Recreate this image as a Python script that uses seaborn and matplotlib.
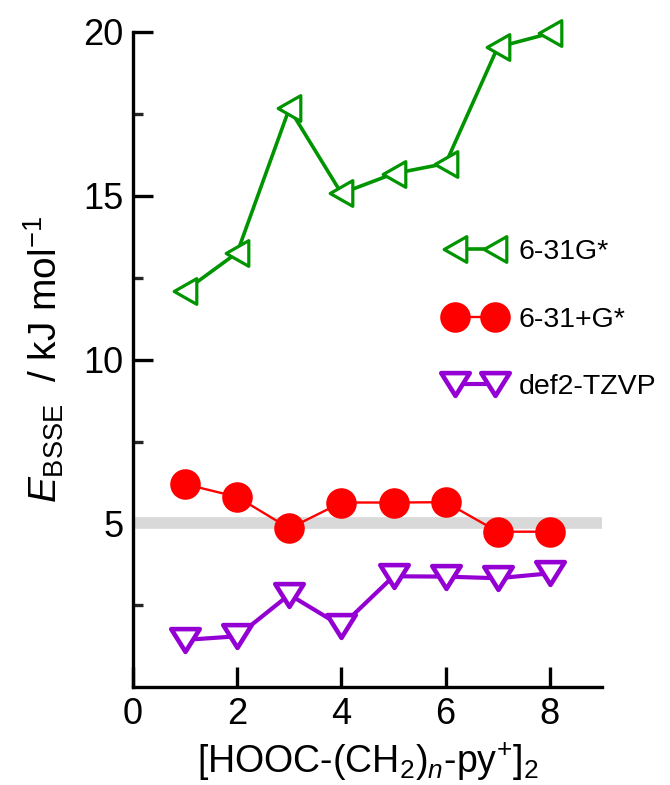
import numpy as np
import pandas as pd
import matplotlib
matplotlib.use("Agg")
import matplotlib.pyplot as plt
from matplotlib.path import Path
from matplotlib.markers import MarkerStyle
import seaborn as sns

# ---- data ----
n_values = [1, 2, 3, 4, 5, 6, 7, 8]
e_631g = [12.10, 13.26, 17.66, 15.07, 15.67, 15.98, 19.53, 19.95]
e_631pg = [6.20, 5.81, 4.85, 5.64, 5.64, 5.65, 4.75, 4.75]
e_def2 = [1.45, 1.56, 2.83, 1.87, 3.39, 3.38, 3.33, 3.48]
series_labels = ["6-31G*", "6-31+G*", "def2-TZVP"]
ref_level = 5.0
x_ticks = [0, 2, 4, 6, 8]
y_ticks = [5, 10, 15, 20]

sns.set_theme(style="ticks")
plt.rcParams["font.family"] = ["Liberation Sans", "DejaVu Sans"]
plt.rcParams["text.color"] = "black"
plt.rcParams["axes.labelcolor"] = "black"
plt.rcParams["mathtext.fontset"] = "custom"
plt.rcParams["mathtext.rm"] = "Liberation Sans"
plt.rcParams["mathtext.it"] = "Liberation Sans:italic"
plt.rcParams["mathtext.bf"] = "Liberation Sans:bold"

fig = plt.figure(figsize=(6.7, 7.85), dpi=100)
ax = fig.add_axes([0.1985, 0.1243, 0.70, 0.8353])

green = "#009400"
red = "#ff0000"
purple = "#9400d3"

left_tri = MarkerStyle(Path([(-0.88, 0), (0.88, 1), (0.88, -1), (-0.88, 0)], closed=True), joinstyle="miter")
down_tri = MarkerStyle(Path([(-1, 0.8), (1, 0.8), (0, -0.8), (-1, 0.8)], closed=True), joinstyle="miter")

ax.axhline(ref_level, color="#d9d9d9", linewidth=8.4, zorder=1)

df = pd.DataFrame({"n": n_values, "g": e_631g, "pg": e_631pg, "d": e_def2})

styles = [
    dict(color=green, linewidth=2.6, marker=left_tri, markersize=18.5,
         markerfacecolor="white", markeredgecolor=green, markeredgewidth=2.3),
    dict(color=red, linewidth=1.7, marker="o", markersize=22,
         markerfacecolor=red, markeredgecolor=red, markeredgewidth=0),
    dict(color=purple, linewidth=3.0, marker=down_tri, markersize=20.5,
         markerfacecolor="white", markeredgecolor=purple, markeredgewidth=3.3),
]

for col, lab, st in zip(["g", "pg", "d"], series_labels, styles):
    sns.lineplot(data=df, x="n", y=col, ax=ax, label=lab, clip_on=False,
                 zorder=3, **st)
    line = ax.lines[-1]
    line.set_linewidth(st["linewidth"])
    line.set_markeredgewidth(st["markeredgewidth"])
    line.set_markersize(st["markersize"])
    line.set_clip_on(False)

ax.set_xlim(0, 9)
ax.set_ylim(0, 20)
ax.set_xticks(x_ticks)
ax.set_yticks(y_ticks)
ax.set_yticks([2.5, 7.5, 12.5, 17.5], minor=True)
ax.tick_params(axis="both", which="major", direction="in", length=14.4, width=2.4,
               labelsize=26, pad=7, color="black", labelcolor="black")
ax.tick_params(axis="y", which="minor", direction="in", length=7.2, width=2.4)
for s in ["top", "right"]:
    ax.spines[s].set_visible(False)
for s in ["left", "bottom"]:
    ax.spines[s].set_linewidth(2.4)
    ax.spines[s].set_color("black")

ax.set_xlabel(r"[HOOC-(CH$_{\mathregular{2}}$)$_{\mathit{n}}$-py$^{\mathregular{+}}$]$_{\mathregular{2}}$",
              fontsize=27, labelpad=6, color="black")
ax.set_ylabel(r"$\mathit{E}_{\mathregular{BSSE}}$  / kJ mol$^{\mathregular{-1}}$",
              fontsize=28, labelpad=12, color="black")

leg = ax.legend(loc="upper left", bbox_to_anchor=(0.666, 0.695),
                bbox_transform=fig.transFigure, frameon=False, numpoints=2,
                handlelength=2.0, handletextpad=0.55, labelspacing=1.45,
                borderpad=0, borderaxespad=0, fontsize=20.5)
for t in leg.get_texts():
    t.set_color("black")

fig.savefig("out.png", dpi=100)
